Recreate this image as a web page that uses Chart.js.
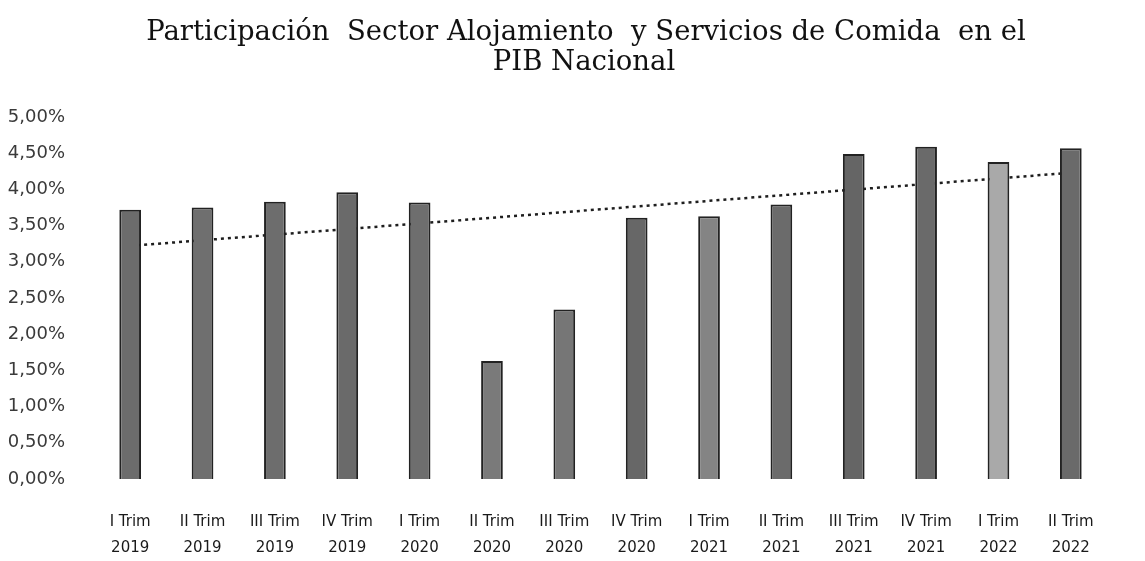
<!DOCTYPE html>
<html>
<head>
<meta charset="utf-8">
<script src="https://cdn.jsdelivr.net/npm/chart.js@4/dist/chart.umd.min.js"></script>
<style>
  html, body { margin: 0; padding: 0; background: #fff; }
  #wrap { width: 1145px; height: 561px; }
</style>
</head>
<body>
<div id="wrap"><canvas id="chart" width="1145" height="561"></canvas></div>
<script>
// ============================================================
// Data
// ============================================================
const titleLines = ['Participación  Sector Alojamiento  y Servicios de Comida  en el', 'PIB Nacional'];

const quarters = ['I Trim', 'II Trim', 'III Trim', 'IV Trim', 'I Trim', 'II Trim', 'III Trim',
  'IV Trim', 'I Trim', 'II Trim', 'III Trim', 'IV Trim', 'I Trim', 'II Trim'];
const years = ['2019', '2019', '2019', '2019', '2020', '2020', '2020',
  '2020', '2021', '2021', '2021', '2021', '2022', '2022'];

// Share of GDP, in %
const share = [3.72, 3.75, 3.83, 3.96, 3.82, 1.63, 2.34, 3.61, 3.63, 3.79, 4.49, 4.59, 4.38, 4.57];

// Linear trendline, only the ends
const trend = [3.22, null, null, null, null, null, null, null, null, null, null, null, null, 4.23];

const yTicks = [0, 0.5, 1, 1.5, 2, 2.5, 3, 3.5, 4, 4.5, 5];

// ============================================================
// Styles
// ============================================================
const barFill = ['#6c6c6c', '#6f6f6f', '#6d6d6d', '#6a6a6a', '#6e6e6e', '#7a7a7a', '#767676',
  '#676767', '#848484', '#6b6b6b', '#656565', '#6a6a6a', '#a9a9a9', '#6a6a6a'];

const fmtPct = v => v.toFixed(2).replace('.', ',') + '%';

// Title is drawn by hand: in the scan it sits a bit right of the canvas centre
const titlePlugin = {
  id: 'scanTitle',
  afterDraw(chart) {
    const c = chart.ctx;
    c.save();
    c.fillStyle = '#111';
    c.font = '27.5px "DejaVu Serif", "Liberation Serif", serif';
    c.textAlign = 'center';
    c.textBaseline = 'middle';
    c.fillText(titleLines[0], 586, 33);
    c.fillText(titleLines[1], 584, 63);
    c.restore();
  },
};

const ctx = document.getElementById('chart').getContext('2d');
new Chart(ctx, {
  data: {
    labels: quarters.map((q, i) => [q, years[i]]),
    datasets: [
      {
        type: 'bar',
        label: 'Participación',
        data: share,
        backgroundColor: barFill,
        borderColor: '#222',
        borderWidth: 2,
        categoryPercentage: 1,
        barPercentage: 0.3,
        order: 1,
      },
      {
        type: 'line',
        label: 'Tendencia',
        data: trend,
        spanGaps: true,
        borderColor: '#1e1e1e',
        borderWidth: 2.5,
        borderDash: [3, 4],
        pointRadius: 0,
        fill: false,
        order: 2,
      },
    ],
  },
  plugins: [titlePlugin],
  options: {
    responsive: false,
    animation: false,
    layout: { padding: { left: 4, right: 38, top: 117, bottom: 2 } },
    plugins: {
      legend: { display: false },
      tooltip: { enabled: false },
      title: { display: false },
    },
    scales: {
      x: {
        grid: { display: false },
        border: { display: false },
        afterFit: axis => { axis.height = 80; },
        ticks: {
          color: '#1a1a1a',
          font: { family: '"DejaVu Sans", "Liberation Sans", sans-serif', size: 15, lineHeight: 1.75 },
          maxRotation: 0,
          autoSkip: false,
          padding: 22,
        },
      },
      y: {
        min: 0,
        max: 5,
        afterBuildTicks: axis => { axis.ticks = yTicks.map(v => ({ value: v })); },
        afterFit: axis => { axis.width = 90; },
        grid: { display: false },
        border: { display: false },
        ticks: {
          color: '#3a3a3a',
          font: { family: '"DejaVu Sans", "Liberation Sans", sans-serif', size: 18 },
          padding: 21,
          callback: v => fmtPct(v),
        },
      },
    },
  },
});
</script>
</body>
</html>
